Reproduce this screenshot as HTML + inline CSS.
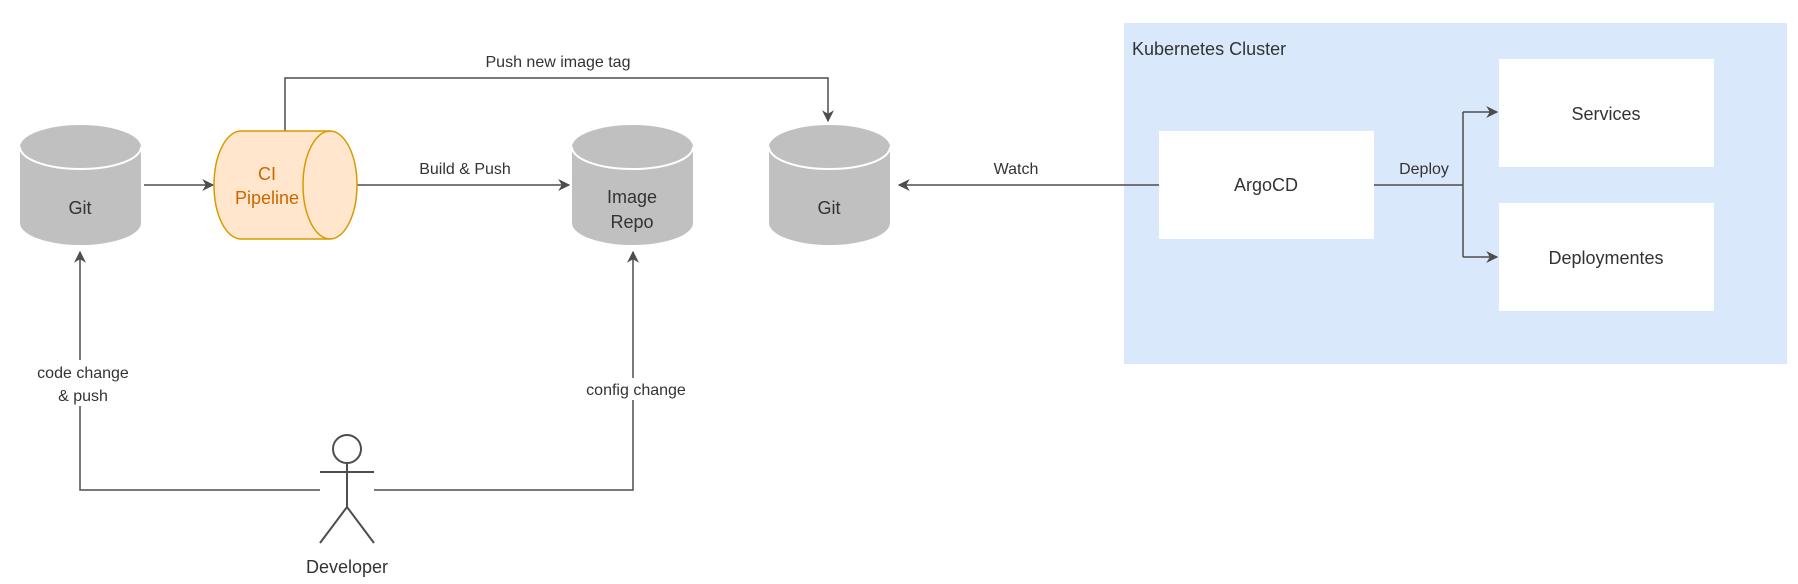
<!DOCTYPE html>
<html><head><meta charset="utf-8"><style>
html,body{margin:0;padding:0;background:#fff;}
svg{display:block;font-family:"Liberation Sans",Arial,sans-serif;}
</style></head><body>
<svg width="1798" height="584" viewBox="0 0 1798 584" xmlns="http://www.w3.org/2000/svg">
<defs>
<marker id="a" viewBox="0 0 10 10" refX="9" refY="5" markerWidth="12" markerHeight="12" markerUnits="userSpaceOnUse" orient="auto">
<path d="M0,0 L10,5 L0,10 L3,5 Z" fill="#4d4d4d"/></marker>
</defs>
<rect x="1124" y="23" width="663" height="341" fill="#dae8fc"/>
<text x="1132" y="55" font-size="18" fill="#333">Kubernetes Cluster</text>
<rect x="1159" y="131" width="215" height="108" fill="#fff"/>
<text x="1266" y="191" font-size="18" fill="#333" text-anchor="middle">ArgoCD</text>
<rect x="1499" y="59" width="215" height="108" fill="#fff"/>
<text x="1606" y="120" font-size="18" fill="#333" text-anchor="middle">Services</text>
<rect x="1499" y="203" width="215" height="108" fill="#fff"/>
<text x="1606" y="264" font-size="18" fill="#333" text-anchor="middle">Deploymentes</text>

<g stroke="#4d4d4d" stroke-width="1.5" fill="none">
<line x1="144" y1="185" x2="213" y2="185" marker-end="url(#a)"/>
<line x1="357" y1="185" x2="569" y2="185" marker-end="url(#a)"/>
<polyline points="285,131 285,78 828,78 828,121" marker-end="url(#a)"/>
<line x1="1159" y1="185" x2="899" y2="185" marker-end="url(#a)"/>
<polyline points="1374,185 1463,185"/>
<polyline points="1463,112 1463,257"/>
<line x1="1463" y1="112" x2="1497" y2="112" marker-end="url(#a)"/>
<line x1="1463" y1="257" x2="1497" y2="257" marker-end="url(#a)"/>
<polyline points="320,490 80,490 80,252" marker-end="url(#a)"/>
<polyline points="374,490 633,490 633,252" marker-end="url(#a)"/>
</g>

<g>
<path d="M20,147 A60.5,22 0 0 1 141,147 L141,223 A60.5,22 0 0 1 20,223 Z" fill="#c0c0c0"/>
<path d="M20,147 A60.5,22 0 0 0 141,147" fill="none" stroke="#fff" stroke-width="2"/>
<text x="80" y="214" font-size="18" fill="#333" text-anchor="middle">Git</text>

<path d="M572,147 A60.5,22 0 0 1 693,147 L693,223 A60.5,22 0 0 1 572,223 Z" fill="#c0c0c0"/>
<path d="M572,147 A60.5,22 0 0 0 693,147" fill="none" stroke="#fff" stroke-width="2"/>
<text x="632" y="203" font-size="18" fill="#333" text-anchor="middle">Image</text>
<text x="632" y="228" font-size="18" fill="#333" text-anchor="middle">Repo</text>

<path d="M769,147 A60.5,22 0 0 1 890,147 L890,223 A60.5,22 0 0 1 769,223 Z" fill="#c0c0c0"/>
<path d="M769,147 A60.5,22 0 0 0 890,147" fill="none" stroke="#fff" stroke-width="2"/>
<text x="829" y="214" font-size="18" fill="#333" text-anchor="middle">Git</text>

<path d="M241,131 L330,131 A27,54 0 0 1 330,239 L241,239 A27,54 0 0 1 241,131 Z" fill="#ffe6cc" stroke="#d79b00" stroke-width="1.5"/>
<path d="M330,131 A27,54 0 0 0 330,239" fill="none" stroke="#d79b00" stroke-width="1.5"/>
<text x="267" y="180" font-size="18" fill="#cc6600" text-anchor="middle">CI</text>
<text x="267" y="204" font-size="18" fill="#cc6600" text-anchor="middle">Pipeline</text>
</g>

<g font-size="16" fill="#333" text-anchor="middle">
<text x="558" y="67">Push new image tag</text>
<text x="465" y="174">Build &amp; Push</text>
<text x="1016" y="174">Watch</text>
<rect x="1400" y="156" width="50" height="22" fill="#dae8fc"/>
<text x="1424" y="174">Deploy</text>
<rect x="25" y="360" width="112" height="46" fill="#fff"/>
<text x="83" y="378">code change</text>
<text x="83" y="401">&amp; push</text>
<rect x="576" y="378" width="120" height="22" fill="#fff"/>
<text x="636" y="395">config change</text>
</g>

<g stroke="#4d4d4d" stroke-width="2" fill="#fff">
<circle cx="347" cy="449" r="14"/>
<line x1="347" y1="463" x2="347" y2="507"/>
<line x1="320" y1="472" x2="374" y2="472"/>
<polyline points="320,543 347,507 374,543" fill="none"/>
</g>
<text x="347" y="573" font-size="18" fill="#333" text-anchor="middle">Developer</text>
</svg>
</body></html>
